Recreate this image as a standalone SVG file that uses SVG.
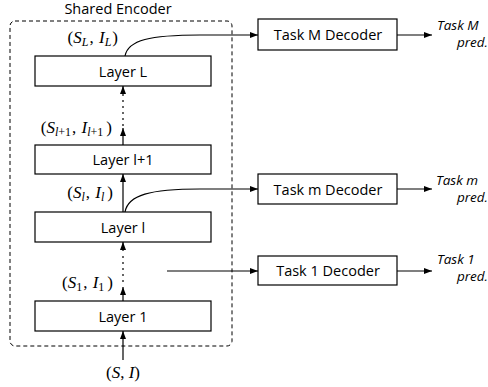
<svg xmlns="http://www.w3.org/2000/svg" width="488" height="387" viewBox="0 0 488 387">
<defs>
<marker id="ah" markerWidth="8" markerHeight="6" refX="8" refY="3" orient="auto" markerUnits="userSpaceOnUse">
<path d="M0,0 L8,3 L0,6 z" fill="#000"/>
</marker>
<style>
.box{fill:#fff;stroke:#000;stroke-width:1.2}
.lbl{font-family:"Open Sans","Liberation Sans",sans-serif;font-size:14.5px;text-anchor:middle;fill:#000}
.it{font-family:"Open Sans","Liberation Sans",sans-serif;font-size:13.5px;font-style:italic;fill:#000}
.math{font-family:"Liberation Serif","DejaVu Serif",serif;font-size:17px;fill:#000;text-anchor:end}
.i{font-style:italic}
.sub{font-size:12px}
.ln{fill:none;stroke:#000;stroke-width:1.2}
</style>
</defs>
<rect x="10" y="21" width="222" height="325" rx="5" fill="none" stroke="#000" stroke-width="1" stroke-dasharray="4,3"/>
<text class="lbl" x="118" y="13.5">Shared Encoder</text>
<g id="layerL"><rect class="box" x="35" y="56" width="176" height="30"/><text class="lbl" x="123" y="76.5">Layer L</text></g>
<g id="layerl1"><rect class="box" x="35" y="145" width="176" height="29"/><text class="lbl" x="123" y="165">Layer l+1</text></g>
<g id="layerl"><rect class="box" x="35" y="212" width="176" height="30"/><text class="lbl" x="123" y="232.5">Layer l</text></g>
<g id="layer1"><rect class="box" x="35" y="301" width="176" height="30"/><text class="lbl" x="123" y="321.5">Layer 1</text></g>
<g id="decM"><rect class="box" x="258" y="19" width="139" height="31"/><text class="lbl" x="328" y="40">Task M Decoder</text></g>
<g id="decm"><rect class="box" x="258" y="174" width="139" height="30"/><text class="lbl" x="328" y="194.5">Task m Decoder</text></g>
<g id="dec1"><rect class="box" x="258" y="256" width="139" height="29"/><text class="lbl" x="328" y="276">Task 1 Decoder</text></g>
<g id="labels">
<text class="math" x="118" y="43">(<tspan class="i">S</tspan><tspan class="sub i" dy="3">L</tspan><tspan dy="-3" dx="1">, </tspan><tspan class="i" dx="1">I</tspan><tspan class="sub i" dy="3">L</tspan><tspan dy="-3" dx="1">)</tspan></text>
<text class="math" x="112" y="133">(<tspan class="i">S</tspan><tspan class="sub i" dy="3">l</tspan><tspan class="sub">+1</tspan><tspan dy="-3" dx="1">, </tspan><tspan class="i" dx="1">I</tspan><tspan class="sub i" dy="3">l</tspan><tspan class="sub">+1</tspan><tspan dy="-3" dx="3">)</tspan></text>
<text class="math" x="113" y="198">(<tspan class="i">S</tspan><tspan class="sub i" dy="3">l</tspan><tspan dy="-3" dx="1">, </tspan><tspan class="i" dx="1">I</tspan><tspan class="sub i" dy="3">l</tspan><tspan dy="-3" dx="3">)</tspan></text>
<text class="math" x="113" y="288">(<tspan class="i">S</tspan><tspan class="sub" dy="3">1</tspan><tspan dy="-3" dx="1">, </tspan><tspan class="i" dx="1">I</tspan><tspan class="sub" dy="3">1</tspan><tspan dy="-3" dx="3">)</tspan></text>
<text class="math" x="140" y="378">(<tspan class="i">S</tspan>, <tspan class="i">I</tspan>)</text>
<text class="it" x="437" y="30">Task M</text>
<text class="it" x="488" y="47" text-anchor="end">pred.</text>
<text class="it" x="436" y="185">Task m</text>
<text class="it" x="488" y="202" text-anchor="end">pred.</text>
<text class="it" x="437" y="264">Task 1</text>
<text class="it" x="488" y="281" text-anchor="end">pred.</text>
</g>
<g id="connectors">
<line class="ln" x1="123" y1="360" x2="123" y2="331" marker-end="url(#ah)"/>
<line class="ln" x1="123" y1="301" x2="123" y2="287" marker-end="url(#ah)"/>
<line class="ln" x1="123" y1="282" x2="123" y2="253" stroke-dasharray="2,4"/>
<line class="ln" x1="123" y1="251" x2="123" y2="242" marker-end="url(#ah)"/>
<line class="ln" x1="123" y1="212" x2="123" y2="174" marker-end="url(#ah)"/>
<line class="ln" x1="123" y1="145" x2="123" y2="128" marker-end="url(#ah)"/>
<line class="ln" x1="123" y1="126" x2="123" y2="98" stroke-dasharray="2,4"/>
<line class="ln" x1="123" y1="96" x2="123" y2="86" marker-end="url(#ah)"/>
<path class="ln" d="M125,56 C128,40 150,35 200,35 L258,35" marker-end="url(#ah)"/>
<path class="ln" d="M125,212 C128,195 150,189 200,189 L258,189" marker-end="url(#ah)"/>
<line class="ln" x1="167" y1="271" x2="258" y2="271" marker-end="url(#ah)"/>
<line class="ln" x1="397" y1="35" x2="432" y2="35" marker-end="url(#ah)"/>
<line class="ln" x1="397" y1="189" x2="432" y2="189" marker-end="url(#ah)"/>
<line class="ln" x1="397" y1="271" x2="432" y2="271" marker-end="url(#ah)"/>
</g>
</svg>
